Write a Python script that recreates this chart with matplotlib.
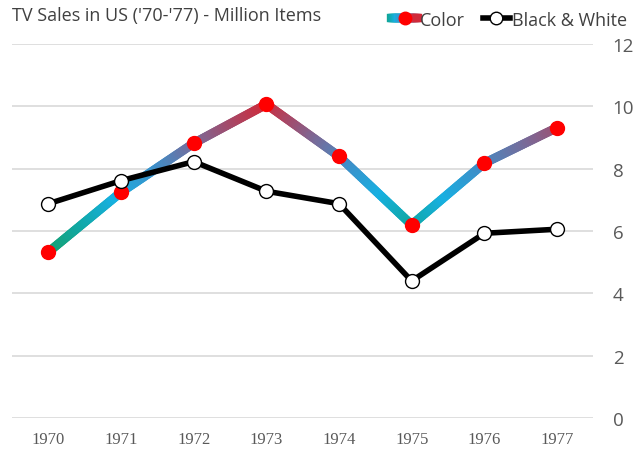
import numpy as np
import matplotlib
matplotlib.use("Agg")
import matplotlib.pyplot as plt
from matplotlib.collections import LineCollection
from matplotlib.colors import LinearSegmentedColormap, Normalize
from matplotlib.legend_handler import HandlerBase
from matplotlib.lines import Line2D

# データ
years = ["1970", "1971", "1972", "1973", "1974", "1975", "1976", "1977"]
color_sales = [5.33, 7.25, 8.82, 10.07, 8.4, 6.2, 8.18, 9.32]
bw_sales = [6.88, 7.62, 8.23, 7.28, 6.88, 4.4, 5.93, 6.06]
y_ticks = [0, 2, 4, 6, 8, 10, 12]

# 値に応じたグラデーション (低い=緑, 中=水色, 高い=赤)
cmap = LinearSegmentedColormap.from_list("tv", [
    (0.00, "#17a06a"),
    (0.20, "#10a8a8"),
    (0.38, "#17b0e2"),
    (0.58, "#3f8ec8"),
    (0.75, "#7a6a98"),
    (1.00, "#d02a3a"),
])
norm = Normalize(vmin=5.3, vmax=10.1)


class GradientHandler(HandlerBase):
    def create_artists(self, legend, orig_handle, xdescent, ydescent,
                       width, height, fontsize, trans):
        xs = np.linspace(-xdescent, width - xdescent, 30)
        yc = height / 2 - ydescent
        segs = [[(xs[i], yc), (xs[i + 1], yc)] for i in range(len(xs) - 1)]
        cols = [cmap(0.15 + 0.85 * i / (len(segs) - 1)) for i in range(len(segs))]
        lc = LineCollection(segs, colors=cols, linewidths=6, transform=trans,
                            capstyle="projecting")
        mk = Line2D([(width - xdescent) / 2 - xdescent], [yc], marker="o",
                    markersize=9, color="red", linestyle="none", transform=trans)
        return [lc, mk]


fig = plt.figure(figsize=(6.4, 4.56), dpi=100)
ax = fig.add_axes([0.019, 0.081, 0.908, 0.82])

x = np.arange(len(years))

# グリッド
for t in y_ticks:
    ax.axhline(t, color="#d9d9d9", lw=1.2, zorder=0)

# Color 系列 (グラデーション線)
segs, cols = [], []
for i in range(len(x) - 1):
    n = 40
    xs = np.linspace(x[i], x[i + 1], n + 1)
    ys = np.linspace(color_sales[i], color_sales[i + 1], n + 1)
    for j in range(n):
        segs.append([(xs[j], ys[j]), (xs[j + 1], ys[j + 1])])
        cols.append(cmap(norm((ys[j] + ys[j + 1]) / 2)))
lc = LineCollection(segs, colors=cols, linewidths=6.5, capstyle="round",
                    joinstyle="round", zorder=2)
ax.add_collection(lc)
ax.plot(x, color_sales, "o", color="red", markersize=10, zorder=4)

# Black & White 系列
ax.plot(x, bw_sales, "-", color="black", lw=4, zorder=3,
        solid_joinstyle="round")
ax.plot(x, bw_sales, "o", markerfacecolor="white", markeredgecolor="black",
        markeredgewidth=1, markersize=10, zorder=5)

ax.set_xlim(-0.5, len(years) - 0.5)
ax.set_ylim(0, 12)
ax.set_xticks(x)
ax.set_xticklabels(years, family="Liberation Serif", fontsize=12, color="#595959")
ax.yaxis.tick_right()
ax.set_yticks(y_ticks)
ax.set_yticklabels([str(t) for t in y_ticks], family="Open Sans", fontsize=13.5,
                   color="#595959")
ax.tick_params(axis="both", length=0)
ax.tick_params(axis="x", pad=9)
ax.tick_params(axis="y", pad=14)
for s in ax.spines.values():
    s.set_visible(False)

fig.text(0.018, 0.965, "TV Sales in US ('70-'77) - Million Items", family="Open Sans",
         fontsize=13, color="#404040", va="center", ha="left")

h_color = object()
h_bw = Line2D([], [], color="black", lw=4, marker="o", markerfacecolor="white",
              markeredgecolor="black", markersize=9)
leg = fig.legend([h_color, h_bw], ["Color", "Black & White"],
                 handler_map={h_color: GradientHandler()},
                 loc="center right", bbox_to_anchor=(1.005, 0.955), ncol=2,
                 frameon=False, handlelength=1.5, handletextpad=0.1,
                 columnspacing=1.0, prop={"family": "Open Sans", "size": 13})
for t in leg.get_texts():
    t.set_color("#404040")

fig.savefig("out.png", dpi=100, facecolor="white")
